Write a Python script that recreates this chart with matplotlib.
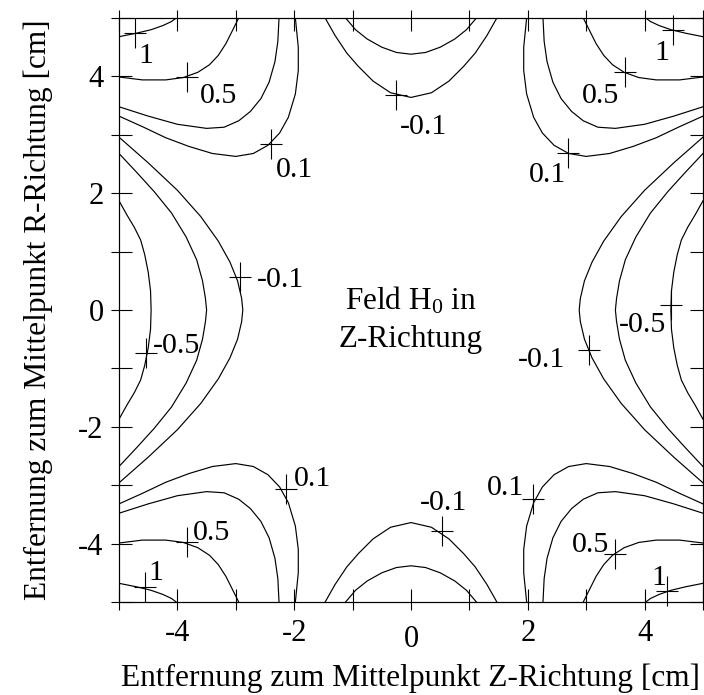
import numpy as np
import matplotlib
matplotlib.use("Agg")
import matplotlib.pyplot as plt

plt.rcParams["font.family"] = ["Liberation Serif", "DejaVu Serif"]
plt.rcParams["mathtext.fontset"] = "custom"
plt.rcParams["mathtext.rm"] = "Liberation Serif"
plt.rcParams["mathtext.it"] = "Liberation Serif:italic"
plt.rcParams["axes.unicode_minus"] = False

# Isolines of the relative field deviation, given for one quadrant as
# (|z|, |r|) in cm; the field is mirror-symmetric in Z and in R.

# Lines in the corners: from the side edge (|z| = 5) to the top edge (|r| = 5)
corner_levels = [1.0, 0.5, 0.2, 0.1]
corner_z = [
    [5.0, 4.7, 4.45, 4.25, 4.1, 4.02],
    [5.0, 4.6, 4.2, 3.9, 3.65, 3.45, 3.3, 3.17, 3.06, 2.95],
    [5.0, 4.5, 4.0, 3.5, 3.2, 2.95, 2.75, 2.57, 2.43, 2.33, 2.28, 2.26],
    [5.0, 4.6, 4.2, 3.8, 3.4, 3.0, 2.7, 2.45, 2.25, 2.1, 1.98, 1.93, 1.93, 1.98],
]
corner_r = [
    [4.68, 4.74, 4.8, 4.87, 4.94, 5.0],
    [3.99, 3.94, 3.94, 3.98, 4.07, 4.2, 4.36, 4.56, 4.78, 5.0],
    [3.48, 3.32, 3.18, 3.11, 3.13, 3.24, 3.4, 3.62, 3.9, 4.25, 4.6, 5.0],
    [3.32, 3.14, 2.95, 2.8, 2.68, 2.63, 2.68, 2.82, 3.03, 3.3, 3.7, 4.1, 4.5, 5.0],
]

# Lines crossing the R axis (z = 0), from the axis out to the top edge
axial_levels = [-0.1, -0.2]
axial_z = [
    [0.0, 0.35, 0.65, 0.9, 1.1, 1.3, 1.47],
    [0.0, 0.25, 0.5, 0.75, 0.95, 1.12],
]
axial_r = [
    [3.64, 3.72, 3.92, 4.17, 4.4, 4.7, 5.0],
    [4.38, 4.41, 4.5, 4.64, 4.8, 5.0],
]

# Lines crossing the Z axis (r = 0), from the axis out to the side edge
side_levels = [-0.1, -0.2, -0.5]
side_r = [
    [0.0, 0.2, 0.5, 0.82, 1.18, 1.6, 2.05, 2.52, 2.96],
    [0.0, 0.2, 0.5, 0.86, 1.25, 1.66, 2.03, 2.36, 2.68],
    [0.0, 0.33, 0.65, 0.95, 1.2, 1.42, 1.62, 1.87],
]
side_z = [
    [2.88, 2.9, 2.97, 3.1, 3.3, 3.6, 4.0, 4.5, 5.0],
    [3.5, 3.52, 3.57, 3.67, 3.85, 4.1, 4.4, 4.7, 5.0],
    [4.45, 4.46, 4.5, 4.56, 4.63, 4.74, 4.86, 5.0],
]

# Level labels: value, cross-marker position, text position (z, r)
label_values = [1, 0.5, 0.1, -0.1, -0.1,
                1, 0.5, 0.1, -0.5, -0.1,
                0.1, -0.1, 0.5, 1,
                0.1, 0.5, 1, -0.5]
label_marks = [(-4.73, 4.74), (-3.83, 3.99), (-2.39, 2.85), (-2.93, 0.57), (-0.26, 3.68),
               (4.49, 4.79), (3.66, 4.08), (2.69, 2.68), (4.46, 0.09), (3.04, -0.68),
               (2.09, -3.24), (0.53, -3.78), (3.49, -4.18), (4.38, -4.81),
               (-2.14, -3.07), (-3.83, -3.98), (-4.55, -4.74), (-4.53, -0.74)]
label_texts = [(-4.54, 4.40), (-3.30, 3.71), (-1.99, 2.45), (-2.24, 0.565), (0.22, 3.18),
               (4.29, 4.45), (3.25, 3.72), (2.34, 2.37), (3.96, -0.2), (2.24, -0.80),
               (1.61, -3.0), (0.56, -3.25), (3.08, -3.97), (4.25, -4.54),
               (-1.68, -2.85), (-3.41, -3.77), (-4.37, -4.45), (-4.01, -0.57)]

x_ticks = [-5, -4, -3, -2, -1, 0, 1, 2, 3, 4, 5]
y_ticks = [-5, -4, -3, -2, -1, 0, 1, 2, 3, 4, 5]
tick_labels = ["", "-4", "", "-2", "", "0", "", "2", "", "4", ""]

fig = plt.figure(figsize=(7.04, 6.95), dpi=100)
ax = fig.add_axes([119 / 704, 93 / 695, 584 / 704, 584 / 695])

line_kw = dict(color="black", lw=0.85, solid_joinstyle="round")

for z, r in zip(corner_z, corner_r):
    z = np.asarray(z)
    r = np.asarray(r)
    for sz in (-1, 1):
        for sr in (-1, 1):
            ax.plot(sz * z, sr * r, **line_kw)

for z, r in zip(axial_z, axial_r):
    z = np.asarray(z)
    r = np.asarray(r)
    zz = np.concatenate([-z[::-1], z[1:]])
    rr = np.concatenate([r[::-1], r[1:]])
    for sr in (-1, 1):
        ax.plot(zz, sr * rr, **line_kw)

for z, r in zip(side_z, side_r):
    z = np.asarray(z)
    r = np.asarray(r)
    zz = np.concatenate([z[::-1], z[1:]])
    rr = np.concatenate([-r[::-1], r[1:]])
    for sz in (-1, 1):
        ax.plot(sz * zz, rr, **line_kw)

for val, (mz, mr), (tz, tr) in zip(label_values, label_marks, label_texts):
    ax.plot(mz, mr, marker="|", ms=21.5, mew=0.8, color="black", clip_on=False)
    ax.plot(mz, mr, marker="_", ms=16, mew=0.8, color="black", clip_on=False)
    ax.text(tz, tr, f"{val:g}", fontsize=21.5, ha="center", va="center_baseline")

ax.text(0.0, 0.0, r"Feld H$_0$ in", fontsize=22.5, ha="center", va="baseline")
ax.text(0.0, -0.63, "Z-Richtung", fontsize=22.5, ha="center", va="baseline")

ax.set_xlim(-5, 5)
ax.set_ylim(-5, 5)
ax.set_xticks(x_ticks)
ax.set_yticks(y_ticks)
ax.set_xticklabels(tick_labels)
ax.set_yticklabels(tick_labels)
ax.tick_params(direction="in", length=9.5, width=0.8, top=True, right=True,
               labelsize=22, pad=11)
ax.tick_params(axis="x", pad=12.5)
# the centre label sits a little lower on the Z axis
ax.xaxis.get_major_ticks()[5].set_pad(16.5)
for spine in ax.spines.values():
    spine.set_linewidth(0.8)

# short outward stubs of the ticks on all four edges
for loc in ("bottom", "top"):
    sec = ax.secondary_xaxis(loc)
    sec.set_xticks(x_ticks)
    sec.tick_params(direction="out", length=5.5, width=0.8,
                    labelbottom=False, labeltop=False)
    for spine in sec.spines.values():
        spine.set_linewidth(0.8)
for loc in ("left", "right"):
    sec = ax.secondary_yaxis(loc)
    sec.set_yticks(y_ticks)
    sec.tick_params(direction="out", length=5.5, width=0.8,
                    labelleft=False, labelright=False)
    for spine in sec.spines.values():
        spine.set_linewidth(0.8)

ax.set_xlabel("Entfernung zum Mittelpunkt Z-Richtung [cm]", fontsize=22.6, labelpad=8)
ax.xaxis.set_label_coords(0.4985, -0.0)
ax.xaxis.label.set_verticalalignment("top")
ax.xaxis.set_label_coords(0.4985, -0.105)
ax.set_ylabel("Entfernung zum Mittelpunkt R-Richtung [cm]", fontsize=22.6, labelpad=18)

fig.savefig("out.png", dpi=100)
